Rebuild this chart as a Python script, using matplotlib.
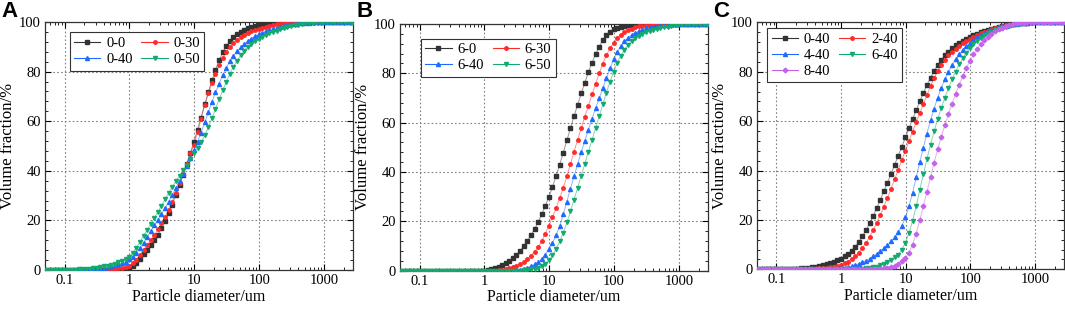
import matplotlib
matplotlib.use("Agg")
import matplotlib.pyplot as plt
from matplotlib.ticker import MultipleLocator, LogLocator, NullFormatter

plt.rcParams['font.family'] = ['Liberation Serif', 'DejaVu Serif']
plt.rcParams['mathtext.fontset'] = 'stix'

# laser sizer size classes (um), shared by every curve
diam = [0.0526, 0.0597, 0.0679, 0.0771, 0.0876, 0.0995, 0.113, 0.128, 0.146, 0.166,
        0.188, 0.214, 0.243, 0.276, 0.314, 0.357, 0.405, 0.460, 0.523, 0.594,
        0.675, 0.767, 0.872, 0.991, 1.13, 1.28, 1.45, 1.65, 1.88, 2.13,
        2.42, 2.75, 3.12, 3.55, 4.03, 4.58, 5.21, 5.92, 6.72, 7.64,
        8.68, 9.86, 11.2, 12.7, 14.5, 16.4, 18.7, 21.2, 24.1, 27.4,
        31.1, 35.3, 40.1, 45.6, 51.8, 58.9, 66.9, 76.0, 86.4, 98.1,
        111, 127, 144, 163, 186, 211, 240, 272, 310, 352,
        400, 454, 516, 586, 666, 756, 859, 976, 1110, 1260,
        1430, 1630, 1850, 2100, 2390, 2710]

# panel A
a_labels = ['0-0', '0-30', '0-40', '0-50']
a_00 = [0, 0, 0, 0, 0, 0, 0, 0, 0, 0,
        0, 0, 0, 0, 0, 0, 0, 0, 0, 0,
        0, 0, 0, 0.3, 1.5, 3.0, 4.6, 6.3, 8.1, 10.0,
        12.1, 14.3, 16.8, 19.6, 22.8, 26.4, 30.3, 34.3, 38.5, 42.8,
        47.2, 51.6, 56.5, 61.5, 66.8, 71.6, 76.5, 80.8, 84.6, 87.8,
        90.3, 92.3, 93.9, 95.1, 96.1, 96.9, 97.5, 98.0, 98.4, 98.8,
        99.1, 99.4, 99.6, 99.8, 99.9, 100, 100, 100, 100, 100,
        100, 100, 100, 100, 100, 100, 100, 100, 100, 100,
        100, 100, 100, 100, 100, 100]
a_30 = [0, 0, 0, 0, 0, 0, 0, 0, 0, 0,
        0, 0, 0, 0, 0, 0, 0.1, 0.2, 0.3, 0.4,
        0.6, 0.8, 1.1, 1.6, 2.7, 4.2, 6.0, 8.1, 10.1, 12.1,
        14.2, 16.4, 18.8, 21.4, 24.3, 27.6, 31.2, 35.0, 38.9, 42.9,
        47.0, 50.5, 55.5, 61.0, 66.5, 71.2, 75.5, 79.2, 82.6, 85.6,
        88.0, 89.9, 91.4, 92.7, 93.8, 94.7, 95.5, 96.2, 96.8, 97.3,
        97.8, 98.2, 98.6, 98.9, 99.2, 99.4, 99.6, 99.7, 99.8, 99.9,
        100, 100, 100, 100, 100, 100, 100, 100, 100, 100,
        100, 100, 100, 100, 100, 100]
a_40 = [0, 0, 0, 0, 0, 0, 0, 0, 0, 0,
        0.1, 0.2, 0.3, 0.4, 0.5, 0.7, 0.9, 1.1, 1.4, 1.8,
        2.2, 2.7, 3.4, 4.3, 5.4, 7.0, 8.9, 11.0, 13.3, 15.7,
        18.0, 20.3, 22.6, 25.0, 27.6, 30.3, 33.1, 35.9, 38.8, 41.9,
        45.0, 48.3, 51.8, 55.4, 59.5, 63.6, 67.8, 71.6, 75.2, 78.6,
        81.6, 84.2, 86.4, 88.2, 89.8, 91.1, 92.3, 93.3, 94.2, 95.0,
        95.7, 96.3, 96.9, 97.4, 97.8, 98.2, 98.5, 98.8, 99.1, 99.3,
        99.5, 99.6, 99.7, 99.8, 99.9, 100, 100, 100, 100, 100,
        100, 100, 100, 100, 100, 100]
a_50 = [0, 0, 0, 0, 0, 0, 0.1, 0.1, 0.1, 0.2,
        0.3, 0.4, 0.5, 0.7, 0.9, 1.1, 1.4, 1.7, 2.1, 2.6,
        3.1, 3.7, 4.4, 5.4, 7.0, 9.0, 11.3, 13.8, 16.2, 18.6,
        21.0, 23.5, 26.0, 28.6, 31.1, 33.5, 35.8, 38.0, 40.2, 42.5,
        44.8, 47.0, 49.2, 51.5, 54.3, 57.5, 61.2, 65.0, 68.8, 72.5,
        76.0, 79.2, 82.0, 84.5, 86.6, 88.4, 90.0, 91.3, 92.4, 93.3,
        94.1, 94.8, 95.4, 96.0, 96.6, 97.1, 97.6, 98.0, 98.4, 98.7,
        99.0, 99.3, 99.5, 99.7, 99.8, 99.9, 100, 100, 100, 100,
        100, 100, 100, 100, 100, 100]

# panel B
b_labels = ['6-0', '6-30', '6-40', '6-50']
b_00 = [0, 0, 0, 0, 0, 0, 0, 0, 0, 0,
        0, 0, 0, 0, 0, 0, 0, 0, 0, 0,
        0, 0, 0, 0, 0.3, 0.7, 1.1, 1.6, 2.2, 2.9,
        3.8, 4.9, 6.2, 7.9, 10.0, 12.0, 14.3, 16.8, 19.6, 22.8,
        26.2, 29.9, 33.9, 38.3, 43.0, 47.8, 52.8, 57.7, 62.6, 67.3,
        71.8, 76.2, 80.4, 84.3, 87.8, 90.8, 93.4, 95.4, 96.9, 97.9,
        98.5, 98.9, 99.2, 99.4, 99.6, 99.7, 99.8, 99.9, 100, 100,
        100, 100, 100, 100, 100, 100, 100, 100, 100, 100,
        100, 100, 100, 100, 100, 100]
b_30 = [0, 0, 0, 0, 0, 0, 0, 0, 0, 0,
        0, 0, 0, 0, 0, 0, 0, 0, 0, 0,
        0, 0, 0, 0, 0, 0, 0, 0.1, 0.2, 0.5,
        0.9, 1.4, 2.0, 2.7, 3.6, 4.7, 6.0, 7.5, 9.5, 12.0,
        15.0, 18.2, 21.6, 25.2, 29.3, 33.6, 38.3, 43.2, 48.2, 53.1,
        57.8, 62.4, 66.9, 71.4, 75.8, 80.0, 83.9, 87.3, 90.1, 92.4,
        94.2, 95.6, 96.7, 97.5, 98.1, 98.6, 99.0, 99.3, 99.5, 99.7,
        99.8, 99.9, 100, 100, 100, 100, 100, 100, 100, 100,
        100, 100, 100, 100, 100, 100]
b_40 = [0, 0, 0, 0, 0, 0, 0, 0, 0, 0,
        0, 0, 0, 0, 0, 0, 0, 0, 0, 0,
        0, 0, 0, 0, 0, 0, 0, 0, 0, 0,
        0, 0, 0.2, 0.4, 0.7, 1.1, 1.7, 2.5, 3.5, 4.8,
        6.5, 8.6, 11.2, 14.3, 18.0, 22.8, 28.0, 33.2, 38.3, 43.2,
        48.0, 52.6, 57.2, 61.6, 65.8, 69.9, 74.0, 78.1, 82.0, 85.6,
        88.6, 91.0, 92.9, 94.4, 95.5, 96.4, 97.1, 97.7, 98.2, 98.6,
        98.9, 99.2, 99.4, 99.6, 99.7, 99.8, 99.9, 100, 100, 100,
        100, 100, 100, 100, 100, 100]
b_50 = [0, 0, 0, 0, 0, 0, 0, 0, 0, 0,
        0, 0, 0, 0, 0, 0, 0, 0, 0, 0,
        0, 0, 0, 0, 0, 0, 0, 0, 0, 0,
        0, 0, 0, 0, 0.1, 0.3, 0.5, 0.8, 1.2, 1.8,
        2.8, 4.2, 6.2, 8.8, 11.8, 15.3, 19.5, 24.0, 28.8, 33.6,
        38.5, 43.3, 48.2, 53.0, 57.8, 62.6, 67.4, 72.2, 76.6, 80.6,
        84.2, 87.2, 89.6, 91.5, 93.0, 94.2, 95.2, 96.0, 96.6, 97.0,
        97.4, 97.8, 98.2, 98.6, 98.9, 99.2, 99.4, 99.6, 99.8, 99.9,
        100, 100, 100, 100, 100, 100]

# panel C
c_labels = ['0-40', '2-40', '4-40', '6-40', '8-40']
c_0 = [0, 0, 0, 0, 0, 0, 0, 0, 0.1, 0.1,
       0.2, 0.3, 0.4, 0.5, 0.7, 0.9, 1.1, 1.4, 1.7, 2.1,
       2.5, 3.0, 3.6, 4.3, 5.2, 6.3, 7.6, 9.2, 11.1, 13.3,
       15.8, 18.6, 21.6, 24.8, 28.1, 31.6, 35.1, 38.7, 42.3, 46.0,
       49.7, 53.4, 57.1, 60.8, 64.4, 68.0, 71.4, 74.6, 77.6, 80.3,
       82.7, 84.8, 86.6, 88.2, 89.5, 90.7, 91.7, 92.6, 93.4, 94.1,
       94.8, 95.4, 96.0, 96.5, 97.0, 97.5, 97.9, 98.3, 98.6, 98.9,
       99.2, 99.4, 99.6, 99.7, 99.8, 99.9, 100, 100, 100, 100,
       100, 100, 100, 100, 100, 100]
c_2 = [0, 0, 0, 0, 0, 0, 0, 0, 0, 0,
       0, 0, 0, 0, 0.1, 0.2, 0.3, 0.4, 0.5, 0.7,
       0.9, 1.1, 1.4, 1.8, 2.4, 3.1, 4.1, 5.3, 6.8, 8.6,
       10.7, 13.1, 15.8, 18.8, 22.0, 25.4, 29.0, 32.7, 36.5, 40.3,
       44.2, 48.1, 52.0, 55.8, 59.6, 63.3, 66.9, 70.5, 74.2, 77.5,
       80.3, 82.7, 84.8, 86.6, 88.1, 89.4, 90.6, 91.7, 92.6, 93.4,
       94.2, 94.9, 95.6, 96.2, 96.7, 97.2, 97.7, 98.1, 98.5, 98.8,
       99.1, 99.3, 99.5, 99.7, 99.8, 99.9, 100, 100, 100, 100,
       100, 100, 100, 100, 100, 100]
c_4 = [0, 0, 0, 0, 0, 0, 0, 0, 0, 0,
       0, 0, 0, 0, 0, 0, 0, 0, 0, 0,
       0.1, 0.2, 0.3, 0.5, 0.7, 1.0, 1.3, 1.7, 2.2, 2.8,
       3.5, 4.3, 5.2, 6.2, 7.3, 8.5, 9.8, 11.3, 13.0, 15.0,
       17.6, 21.0, 25.5, 31.0, 37.2, 43.3, 49.3, 55.0, 60.3, 65.1,
       69.5, 73.4, 76.9, 80.0, 82.7, 85.0, 87.0, 88.8, 90.3, 91.6,
       92.8, 93.9, 94.9, 95.7, 96.4, 97.0, 97.5, 98.0, 98.4, 98.7,
       99.0, 99.3, 99.5, 99.7, 99.8, 99.9, 100, 100, 100, 100,
       100, 100, 100, 100, 100, 100]
c_6 = [0, 0, 0, 0, 0, 0, 0, 0, 0, 0,
       0, 0, 0, 0, 0, 0, 0, 0, 0, 0,
       0, 0, 0, 0, 0, 0, 0, 0.1, 0.2, 0.3,
       0.4, 0.6, 0.8, 1.1, 1.6, 2.2, 2.9, 3.8, 4.9, 6.0,
       8.0, 10.8, 14.6, 19.6, 25.6, 32.0, 38.5, 44.7, 50.5, 55.9,
       60.8, 65.3, 69.5, 73.4, 76.9, 80.1, 83.0, 85.5, 87.7, 89.6,
       91.2, 92.6, 93.8, 94.8, 95.6, 96.3, 96.9, 97.4, 97.9, 98.3,
       98.7, 99.0, 99.3, 99.5, 99.7, 99.8, 99.9, 100, 100, 100,
       100, 100, 100, 100, 100, 100]
c_8 = [0, 0, 0, 0, 0, 0, 0, 0, 0, 0,
       0, 0, 0, 0, 0, 0, 0, 0, 0, 0,
       0, 0, 0, 0, 0, 0, 0, 0, 0, 0,
       0, 0, 0.1, 0.2, 0.3, 0.5, 0.7, 1.0, 1.5, 2.2,
       3.2, 4.7, 6.8, 10.0, 14.5, 19.8, 25.5, 31.4, 37.4, 43.2,
       48.6, 53.6, 58.3, 62.8, 67.0, 71.0, 74.8, 78.3, 81.5, 84.4,
       87.0, 89.3, 91.2, 92.8, 94.2, 95.4, 96.4, 97.2, 97.9, 98.5,
       98.9, 99.3, 99.6, 99.8, 99.9, 100, 100, 100, 100, 100,
       100, 100, 100, 100, 100, 100]

colors = ['#333333', '#ff2a2a', '#1f6bff', '#12aa6e', '#c462ec']
markers = ['s', 'o', '^', 'v', 'D']
msizes = [2.3, 2.5, 2.9, 2.9, 2.4]

fig = plt.figure(figsize=(10.65, 3.11), dpi=100)

panels = [
    ('A', [0.0423, 0.132, 0.2892, 0.797], [a_00, a_30, a_40, a_50], a_labels, (0.080, 0.958)),
    ('B', [0.3756, 0.130, 0.2892, 0.793], [b_00, b_30, b_40, b_50], b_labels, (0.068, 0.940)),
    ('C', [0.7108, 0.134, 0.2883, 0.794], [c_0, c_2, c_4, c_6, c_8], c_labels, (0.033, 0.977)),
]

for letter, rect, series, labels, leg_pos in panels:
    ax = fig.add_axes(rect)
    handles = []
    for i, (y, lab) in enumerate(zip(series, labels)):
        ax.plot(diam, y, color=colors[i], lw=0.7, alpha=0.5, zorder=2)
        ax.plot(diam, y, ls='none', marker=markers[i], ms=msizes[i],
                color=colors[i], mec=colors[i], zorder=3)
        # proxy for the legend (line + symbol)
        h, = ax.plot([], [], color=colors[i], lw=0.8, marker=markers[i],
                     ms=msizes[i], mec=colors[i], label=lab)
        handles.append(h)
    ax.set_xscale('log')
    ax.set_xlim(0.05, 2800)
    ax.set_ylim(0, 100)
    ax.set_xticks([0.1, 1, 10, 100, 1000])
    ax.set_xticklabels(['0.1', '1', '10', '100', '1000'])
    ax.xaxis.set_minor_locator(LogLocator(base=10, subs=range(2, 10), numticks=20))
    ax.xaxis.set_minor_formatter(NullFormatter())
    ax.yaxis.set_major_locator(MultipleLocator(20))
    ax.yaxis.set_minor_locator(MultipleLocator(4))
    ax.tick_params(which='both', direction='in', top=True, right=True,
                   labelsize=10.5, colors='black', pad=3)
    ax.tick_params(which='major', length=4, width=0.8)
    ax.tick_params(which='minor', length=2, width=0.6)
    ax.grid(True, which='major', ls=(0, (1.5, 2)), color='#808080', lw=0.8)
    for sp in ax.spines.values():
        sp.set_linewidth(0.9)
        sp.set_color('#333333')
    ax.set_xlabel('Particle diameter/um', fontsize=11.5, labelpad=1)
    ax.set_ylabel('Volume fraction/%', fontsize=12, labelpad=0)
    ax.yaxis.set_label_coords(-0.093, 0.5)

    # legend reads row by row: reorder for matplotlib's column filling
    order = list(range(0, len(handles), 2)) + list(range(1, len(handles), 2))
    leg = ax.legend([handles[k] for k in order], [labels[k] for k in order],
                    loc='upper left', bbox_to_anchor=leg_pos, ncol=2,
                    fontsize=10.5, frameon=True, fancybox=False,
                    edgecolor='#333333', framealpha=1, handlelength=1.8,
                    handletextpad=0.4, columnspacing=0.6, labelspacing=0.2,
                    borderpad=0.3, borderaxespad=0)
    leg.get_frame().set_linewidth(0.8)
    fig.text(rect[0] - 0.041, 0.997, letter,
             fontsize=16, fontweight='bold', family=['Liberation Sans', 'DejaVu Sans'],
             ha='left', va='top')

fig.savefig('out.png', dpi=100)
